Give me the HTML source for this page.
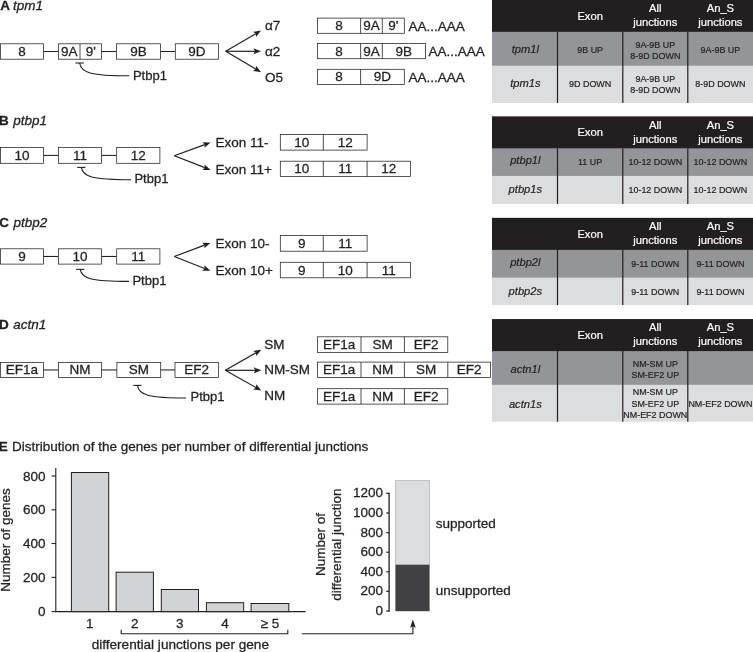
<!DOCTYPE html>
<html><head><meta charset="utf-8"><title>Figure</title>
<style>
html,body{margin:0;padding:0;background:#fff;}
svg{display:block;font-family:"Liberation Sans",sans-serif;}
</style></head><body>
<svg width="753" height="652" viewBox="0 0 753 652">
<rect width="753" height="652" fill="#fff"/>
<text x="0.3" y="9.7" font-size="13.5" text-anchor="start" fill="#231f20" stroke="#231f20" stroke-width="0.28" font-weight="bold">A</text>
<text x="13.0" y="9.7" font-size="13.5" text-anchor="start" fill="#231f20" stroke="#231f20" stroke-width="0.28" font-style="italic">tpm1</text>
<rect x="0.4" y="43.8" width="43.1" height="15.4" fill="#fff" stroke="#231f20" stroke-width="0.75"/>
<line x1="43.5" y1="51.5" x2="58.5" y2="51.5" stroke="#231f20" stroke-width="1.05"/>
<rect x="58.5" y="43.8" width="43.0" height="15.4" fill="#fff" stroke="#231f20" stroke-width="0.75"/>
<line x1="101.5" y1="51.5" x2="116.5" y2="51.5" stroke="#231f20" stroke-width="1.05"/>
<rect x="116.5" y="43.8" width="44.0" height="15.4" fill="#fff" stroke="#231f20" stroke-width="0.75"/>
<text x="138.5" y="56.0" font-size="13.5" text-anchor="middle" fill="#231f20" stroke="#231f20" stroke-width="0.28">9B</text>
<line x1="160.5" y1="51.5" x2="175.3" y2="51.5" stroke="#231f20" stroke-width="1.05"/>
<rect x="175.3" y="43.8" width="43.1" height="15.4" fill="#fff" stroke="#231f20" stroke-width="0.75"/>
<text x="196.85" y="56.0" font-size="13.5" text-anchor="middle" fill="#231f20" stroke="#231f20" stroke-width="0.28">9D</text>
<text x="22" y="56" font-size="13.5" text-anchor="middle" fill="#231f20" stroke="#231f20" stroke-width="0.28">8</text>
<line x1="80" y1="43.8" x2="80" y2="59.2" stroke="#231f20" stroke-width="0.8"/>
<text x="69.3" y="56" font-size="13.5" text-anchor="middle" fill="#231f20" stroke="#231f20" stroke-width="0.28">9A</text>
<text x="90.8" y="56" font-size="13.5" text-anchor="middle" fill="#231f20" stroke="#231f20" stroke-width="0.28">9'</text>
<line x1="75.5" y1="63" x2="83.7" y2="63" stroke="#231f20" stroke-width="1.1"/>
<path d="M79.6,63 C81.1,73.2 91.6,75.7 129.3,75.7" fill="none" stroke="#231f20" stroke-width="1.1"/>
<text x="132.9" y="79.6" font-size="13" text-anchor="start" fill="#231f20" stroke="#231f20" stroke-width="0.28">Ptbp1</text>
<line x1="225.7" y1="51.3" x2="255.69" y2="33.71" stroke="#231f20" stroke-width="1.2"/>
<polygon points="261,30.6 256.02,36.94 255.69,33.71 253.04,31.85" fill="#231f20"/>
<line x1="225.7" y1="51.3" x2="254.85" y2="51.3" stroke="#231f20" stroke-width="1.2"/>
<polygon points="261,51.3 253.5,54.25 254.85,51.3 253.5,48.35" fill="#231f20"/>
<line x1="225.7" y1="51.3" x2="255.71" y2="69.07" stroke="#231f20" stroke-width="1.2"/>
<polygon points="261,72.2 253.04,70.92 255.71,69.07 256.05,65.84" fill="#231f20"/>
<text x="265" y="30" font-size="13.5" text-anchor="start" fill="#231f20" stroke="#231f20" stroke-width="0.28">α7</text>
<text x="265" y="56" font-size="13.5" text-anchor="start" fill="#231f20" stroke="#231f20" stroke-width="0.28">α2</text>
<text x="265" y="81.6" font-size="13.5" text-anchor="start" fill="#231f20" stroke="#231f20" stroke-width="0.28">O5</text>
<rect x="317.5" y="18.1" width="86.8" height="15.2" fill="#fff" stroke="#231f20" stroke-width="0.75"/>
<line x1="360.6" y1="18.1" x2="360.6" y2="33.3" stroke="#231f20" stroke-width="0.8"/>
<line x1="382.3" y1="18.1" x2="382.3" y2="33.3" stroke="#231f20" stroke-width="0.8"/>
<text x="339.05" y="30.099999999999998" font-size="13.5" text-anchor="middle" fill="#231f20" stroke="#231f20" stroke-width="0.28">8</text>
<text x="371.45" y="30.099999999999998" font-size="13.5" text-anchor="middle" fill="#231f20" stroke="#231f20" stroke-width="0.28">9A</text>
<text x="393.3" y="30.099999999999998" font-size="13.5" text-anchor="middle" fill="#231f20" stroke="#231f20" stroke-width="0.28">9'</text>
<text x="408.5" y="30.5" font-size="13.5" text-anchor="start" fill="#231f20" stroke="#231f20" stroke-width="0.28">AA...AAA</text>
<rect x="317.5" y="43.5" width="107.9" height="15.2" fill="#fff" stroke="#231f20" stroke-width="0.75"/>
<line x1="360.6" y1="43.5" x2="360.6" y2="58.7" stroke="#231f20" stroke-width="0.8"/>
<line x1="382.3" y1="43.5" x2="382.3" y2="58.7" stroke="#231f20" stroke-width="0.8"/>
<text x="339.05" y="55.5" font-size="13.5" text-anchor="middle" fill="#231f20" stroke="#231f20" stroke-width="0.28">8</text>
<text x="371.45" y="55.5" font-size="13.5" text-anchor="middle" fill="#231f20" stroke="#231f20" stroke-width="0.28">9A</text>
<text x="403.85" y="55.5" font-size="13.5" text-anchor="middle" fill="#231f20" stroke="#231f20" stroke-width="0.28">9B</text>
<text x="428.5" y="56" font-size="13.5" text-anchor="start" fill="#231f20" stroke="#231f20" stroke-width="0.28">AA...AAA</text>
<rect x="317.5" y="69.3" width="86.8" height="15.3" fill="#fff" stroke="#231f20" stroke-width="0.75"/>
<line x1="360.6" y1="69.3" x2="360.6" y2="84.6" stroke="#231f20" stroke-width="0.8"/>
<text x="339.05" y="81.39999999999999" font-size="13.5" text-anchor="middle" fill="#231f20" stroke="#231f20" stroke-width="0.28">8</text>
<text x="382.45" y="81.39999999999999" font-size="13.5" text-anchor="middle" fill="#231f20" stroke="#231f20" stroke-width="0.28">9D</text>
<text x="408.5" y="81.6" font-size="13.5" text-anchor="start" fill="#231f20" stroke="#231f20" stroke-width="0.28">AA...AAA</text>
<text x="-1" y="125.2" font-size="13.5" text-anchor="start" fill="#231f20" stroke="#231f20" stroke-width="0.28" font-weight="bold">B</text>
<text x="13.2" y="125.2" font-size="13.5" text-anchor="start" fill="#231f20" stroke="#231f20" stroke-width="0.28" font-style="italic">ptbp1</text>
<rect x="0.4" y="147.5" width="43.1" height="15.8" fill="#fff" stroke="#231f20" stroke-width="0.75"/>
<text x="21.95" y="160.10000000000002" font-size="13.5" text-anchor="middle" fill="#231f20" stroke="#231f20" stroke-width="0.28">10</text>
<line x1="43.5" y1="155.4" x2="58.4" y2="155.4" stroke="#231f20" stroke-width="1.05"/>
<rect x="58.4" y="147.5" width="43.2" height="15.8" fill="#fff" stroke="#231f20" stroke-width="0.75"/>
<text x="80.0" y="160.10000000000002" font-size="13.5" text-anchor="middle" fill="#231f20" stroke="#231f20" stroke-width="0.28">11</text>
<line x1="101.6" y1="155.4" x2="116.7" y2="155.4" stroke="#231f20" stroke-width="1.05"/>
<rect x="116.7" y="147.5" width="43.2" height="15.8" fill="#fff" stroke="#231f20" stroke-width="0.75"/>
<text x="138.3" y="160.10000000000002" font-size="13.5" text-anchor="middle" fill="#231f20" stroke="#231f20" stroke-width="0.28">12</text>
<line x1="77.2" y1="167.4" x2="85.4" y2="167.4" stroke="#231f20" stroke-width="1.1"/>
<path d="M81.3,167.4 C82.8,177.2 93.3,179.7 131,179.7" fill="none" stroke="#231f20" stroke-width="1.1"/>
<text x="134.4" y="183.2" font-size="13" text-anchor="start" fill="#231f20" stroke="#231f20" stroke-width="0.28">Ptbp1</text>
<line x1="174.3" y1="155.8" x2="204.73" y2="144.62" stroke="#231f20" stroke-width="1.2"/>
<polygon points="210.5,142.5 204.48,147.86 204.73,144.62 202.44,142.32" fill="#231f20"/>
<line x1="174.3" y1="155.8" x2="204.77" y2="167.67" stroke="#231f20" stroke-width="1.2"/>
<polygon points="210.5,169.9 202.44,169.93 204.77,167.67 204.58,164.43" fill="#231f20"/>
<text x="215.5" y="147.1" font-size="13.5" text-anchor="start" fill="#231f20" stroke="#231f20" stroke-width="0.28">Exon 11-</text>
<text x="215.5" y="174.1" font-size="13.5" text-anchor="start" fill="#231f20" stroke="#231f20" stroke-width="0.28">Exon 11+</text>
<rect x="280.3" y="134.6" width="86.8" height="15.5" fill="#fff" stroke="#231f20" stroke-width="0.75"/>
<line x1="323.3" y1="134.6" x2="323.3" y2="150.1" stroke="#231f20" stroke-width="0.8"/>
<text x="301.8" y="146.9" font-size="13.5" text-anchor="middle" fill="#231f20" stroke="#231f20" stroke-width="0.28">10</text>
<text x="345.2" y="146.9" font-size="13.5" text-anchor="middle" fill="#231f20" stroke="#231f20" stroke-width="0.28">12</text>
<rect x="280.3" y="161.2" width="130.1" height="15.4" fill="#fff" stroke="#231f20" stroke-width="0.75"/>
<line x1="323.3" y1="161.2" x2="323.3" y2="176.6" stroke="#231f20" stroke-width="0.8"/>
<line x1="367.1" y1="161.2" x2="367.1" y2="176.6" stroke="#231f20" stroke-width="0.8"/>
<text x="301.8" y="173.4" font-size="13.5" text-anchor="middle" fill="#231f20" stroke="#231f20" stroke-width="0.28">10</text>
<text x="345.2" y="173.4" font-size="13.5" text-anchor="middle" fill="#231f20" stroke="#231f20" stroke-width="0.28">11</text>
<text x="388.75" y="173.4" font-size="13.5" text-anchor="middle" fill="#231f20" stroke="#231f20" stroke-width="0.28">12</text>
<text x="-0.8" y="227.3" font-size="13.5" text-anchor="start" fill="#231f20" stroke="#231f20" stroke-width="0.28" font-weight="bold">C</text>
<text x="13.4" y="227.3" font-size="13.5" text-anchor="start" fill="#231f20" stroke="#231f20" stroke-width="0.28" font-style="italic">ptbp2</text>
<rect x="0.4" y="248.8" width="43.1" height="15.3" fill="#fff" stroke="#231f20" stroke-width="0.75"/>
<text x="21.95" y="260.90000000000003" font-size="13.5" text-anchor="middle" fill="#231f20" stroke="#231f20" stroke-width="0.28">9</text>
<line x1="43.5" y1="256.45000000000005" x2="58.4" y2="256.45000000000005" stroke="#231f20" stroke-width="1.05"/>
<rect x="58.4" y="248.8" width="43.2" height="15.3" fill="#fff" stroke="#231f20" stroke-width="0.75"/>
<text x="80.0" y="260.90000000000003" font-size="13.5" text-anchor="middle" fill="#231f20" stroke="#231f20" stroke-width="0.28">10</text>
<line x1="101.6" y1="256.45000000000005" x2="116.7" y2="256.45000000000005" stroke="#231f20" stroke-width="1.05"/>
<rect x="116.7" y="248.8" width="43.2" height="15.3" fill="#fff" stroke="#231f20" stroke-width="0.75"/>
<text x="138.3" y="260.90000000000003" font-size="13.5" text-anchor="middle" fill="#231f20" stroke="#231f20" stroke-width="0.28">11</text>
<line x1="76.1" y1="269.4" x2="84.3" y2="269.4" stroke="#231f20" stroke-width="1.1"/>
<path d="M80.2,269.4 C81.7,278.9 92.2,281.4 129,281.4" fill="none" stroke="#231f20" stroke-width="1.1"/>
<text x="132.4" y="284.9" font-size="13" text-anchor="start" fill="#231f20" stroke="#231f20" stroke-width="0.28">Ptbp1</text>
<line x1="174.3" y1="256.5" x2="204.55" y2="245.07" stroke="#231f20" stroke-width="1.2"/>
<polygon points="210.3,242.9 204.33,248.31 204.55,245.07 202.24,242.79" fill="#231f20"/>
<line x1="174.3" y1="256.5" x2="204.58" y2="268.44" stroke="#231f20" stroke-width="1.2"/>
<polygon points="210.3,270.7 202.24,270.69 204.58,268.44 204.41,265.2" fill="#231f20"/>
<text x="215.5" y="248.3" font-size="13.5" text-anchor="start" fill="#231f20" stroke="#231f20" stroke-width="0.28">Exon 10-</text>
<text x="215.5" y="274.6" font-size="13.5" text-anchor="start" fill="#231f20" stroke="#231f20" stroke-width="0.28">Exon 10+</text>
<rect x="280.3" y="235.5" width="86.8" height="15.7" fill="#fff" stroke="#231f20" stroke-width="0.75"/>
<line x1="323.3" y1="235.5" x2="323.3" y2="251.2" stroke="#231f20" stroke-width="0.8"/>
<text x="301.8" y="248.0" font-size="13.5" text-anchor="middle" fill="#231f20" stroke="#231f20" stroke-width="0.28">9</text>
<text x="345.2" y="248.0" font-size="13.5" text-anchor="middle" fill="#231f20" stroke="#231f20" stroke-width="0.28">11</text>
<rect x="280.3" y="262.3" width="130.1" height="15.5" fill="#fff" stroke="#231f20" stroke-width="0.75"/>
<line x1="323.3" y1="262.3" x2="323.3" y2="277.8" stroke="#231f20" stroke-width="0.8"/>
<line x1="367.1" y1="262.3" x2="367.1" y2="277.8" stroke="#231f20" stroke-width="0.8"/>
<text x="301.8" y="274.6" font-size="13.5" text-anchor="middle" fill="#231f20" stroke="#231f20" stroke-width="0.28">9</text>
<text x="345.2" y="274.6" font-size="13.5" text-anchor="middle" fill="#231f20" stroke="#231f20" stroke-width="0.28">10</text>
<text x="388.75" y="274.6" font-size="13.5" text-anchor="middle" fill="#231f20" stroke="#231f20" stroke-width="0.28">11</text>
<text x="-1" y="328.8" font-size="13.5" text-anchor="start" fill="#231f20" stroke="#231f20" stroke-width="0.28" font-weight="bold">D</text>
<text x="13.2" y="328.8" font-size="13.5" text-anchor="start" fill="#231f20" stroke="#231f20" stroke-width="0.28" font-style="italic">actn1</text>
<rect x="0.4" y="362.4" width="43.1" height="15.1" fill="#fff" stroke="#231f20" stroke-width="0.75"/>
<text x="21.95" y="374.3" font-size="13.5" text-anchor="middle" fill="#231f20" stroke="#231f20" stroke-width="0.28">EF1a</text>
<line x1="43.5" y1="369.95" x2="58.4" y2="369.95" stroke="#231f20" stroke-width="1.05"/>
<rect x="58.4" y="362.4" width="43.2" height="15.1" fill="#fff" stroke="#231f20" stroke-width="0.75"/>
<text x="80.0" y="374.3" font-size="13.5" text-anchor="middle" fill="#231f20" stroke="#231f20" stroke-width="0.28">NM</text>
<line x1="101.6" y1="369.95" x2="116.9" y2="369.95" stroke="#231f20" stroke-width="1.05"/>
<rect x="116.9" y="362.4" width="43.8" height="15.1" fill="#fff" stroke="#231f20" stroke-width="0.75"/>
<text x="138.8" y="374.3" font-size="13.5" text-anchor="middle" fill="#231f20" stroke="#231f20" stroke-width="0.28">SM</text>
<line x1="160.7" y1="369.95" x2="175" y2="369.95" stroke="#231f20" stroke-width="1.05"/>
<rect x="175" y="362.4" width="43.4" height="15.1" fill="#fff" stroke="#231f20" stroke-width="0.75"/>
<text x="196.7" y="374.3" font-size="13.5" text-anchor="middle" fill="#231f20" stroke="#231f20" stroke-width="0.28">EF2</text>
<line x1="133.3" y1="385.4" x2="141.5" y2="385.4" stroke="#231f20" stroke-width="1.1"/>
<path d="M137.4,385.4 C138.9,395.5 149.4,398 186.2,398" fill="none" stroke="#231f20" stroke-width="1.1"/>
<text x="190.5" y="400.8" font-size="13" text-anchor="start" fill="#231f20" stroke="#231f20" stroke-width="0.28">Ptbp1</text>
<line x1="225.3" y1="370.3" x2="255.96" y2="352.84" stroke="#231f20" stroke-width="1.2"/>
<polygon points="261.3,349.8 256.24,356.07 255.96,352.84 253.32,350.95" fill="#231f20"/>
<line x1="225.3" y1="370.3" x2="255.15" y2="370.3" stroke="#231f20" stroke-width="1.2"/>
<polygon points="261.3,370.3 253.8,373.25 255.15,370.3 253.8,367.35" fill="#231f20"/>
<line x1="225.3" y1="370.3" x2="255.94" y2="387.58" stroke="#231f20" stroke-width="1.2"/>
<polygon points="261.3,390.6 253.32,389.49 255.94,387.58 256.22,384.35" fill="#231f20"/>
<text x="264.3" y="349.1" font-size="13.5" text-anchor="start" fill="#231f20" stroke="#231f20" stroke-width="0.28">SM</text>
<text x="264.3" y="374.1" font-size="13.5" text-anchor="start" fill="#231f20" stroke="#231f20" stroke-width="0.28">NM-SM</text>
<text x="264.3" y="400" font-size="13.5" text-anchor="start" fill="#231f20" stroke="#231f20" stroke-width="0.28">NM</text>
<rect x="317.5" y="336.8" width="130.3" height="15.6" fill="#fff" stroke="#231f20" stroke-width="0.75"/>
<line x1="361" y1="336.8" x2="361" y2="352.4" stroke="#231f20" stroke-width="0.8"/>
<line x1="404.4" y1="336.8" x2="404.4" y2="352.4" stroke="#231f20" stroke-width="0.8"/>
<text x="339.25" y="349.2" font-size="13.5" text-anchor="middle" fill="#231f20" stroke="#231f20" stroke-width="0.28">EF1a</text>
<text x="382.7" y="349.2" font-size="13.5" text-anchor="middle" fill="#231f20" stroke="#231f20" stroke-width="0.28">SM</text>
<text x="426.1" y="349.2" font-size="13.5" text-anchor="middle" fill="#231f20" stroke="#231f20" stroke-width="0.28">EF2</text>
<rect x="317.5" y="362.1" width="173.1" height="15.3" fill="#fff" stroke="#231f20" stroke-width="0.75"/>
<line x1="361" y1="362.1" x2="361" y2="377.4" stroke="#231f20" stroke-width="0.8"/>
<line x1="404.4" y1="362.1" x2="404.4" y2="377.4" stroke="#231f20" stroke-width="0.8"/>
<line x1="447.8" y1="362.1" x2="447.8" y2="377.4" stroke="#231f20" stroke-width="0.8"/>
<text x="339.25" y="374.2" font-size="13.5" text-anchor="middle" fill="#231f20" stroke="#231f20" stroke-width="0.28">EF1a</text>
<text x="382.7" y="374.2" font-size="13.5" text-anchor="middle" fill="#231f20" stroke="#231f20" stroke-width="0.28">NM</text>
<text x="426.1" y="374.2" font-size="13.5" text-anchor="middle" fill="#231f20" stroke="#231f20" stroke-width="0.28">SM</text>
<text x="469.2" y="374.2" font-size="13.5" text-anchor="middle" fill="#231f20" stroke="#231f20" stroke-width="0.28">EF2</text>
<rect x="317.5" y="388.7" width="130.3" height="15.4" fill="#fff" stroke="#231f20" stroke-width="0.75"/>
<line x1="361" y1="388.7" x2="361" y2="404.1" stroke="#231f20" stroke-width="0.8"/>
<line x1="404.4" y1="388.7" x2="404.4" y2="404.1" stroke="#231f20" stroke-width="0.8"/>
<text x="339.25" y="400.90000000000003" font-size="13.5" text-anchor="middle" fill="#231f20" stroke="#231f20" stroke-width="0.28">EF1a</text>
<text x="382.7" y="400.90000000000003" font-size="13.5" text-anchor="middle" fill="#231f20" stroke="#231f20" stroke-width="0.28">NM</text>
<text x="426.1" y="400.90000000000003" font-size="13.5" text-anchor="middle" fill="#231f20" stroke="#231f20" stroke-width="0.28">EF2</text>
<rect x="492" y="0" width="261" height="103.0" fill="#dcddde"/>
<rect x="492" y="0" width="261" height="65.7" fill="#939598"/>
<rect x="492" y="0" width="261" height="31.8" fill="#231f20"/>
<line x1="557.5" y1="31.8" x2="557.5" y2="103.0" stroke="#231f20" stroke-width="1.2"/>
<line x1="622.8" y1="31.8" x2="622.8" y2="103.0" stroke="#231f20" stroke-width="1.2"/>
<line x1="687.8" y1="31.8" x2="687.8" y2="103.0" stroke="#231f20" stroke-width="1.2"/>
<text x="590.15" y="19.7" font-size="11.2" text-anchor="middle" fill="#fff" stroke="#fff" stroke-width="0.2">Exon</text>
<text x="655.3" y="12.3" font-size="11.2" text-anchor="middle" fill="#fff" stroke="#fff" stroke-width="0.2">All</text>
<text x="655.3" y="26.1" font-size="11.2" text-anchor="middle" fill="#fff" stroke="#fff" stroke-width="0.2">junctions</text>
<text x="720.4" y="12.3" font-size="11.2" text-anchor="middle" fill="#fff" stroke="#fff" stroke-width="0.2">An_S</text>
<text x="720.4" y="26.1" font-size="11.2" text-anchor="middle" fill="#fff" stroke="#fff" stroke-width="0.2">junctions</text>
<text x="525.35" y="52.75" font-size="11.15" text-anchor="middle" fill="#231f20" stroke="#231f20" stroke-width="0.2" font-style="italic">tpm1l</text>
<text x="590.15" y="53.3" font-size="8.95" text-anchor="middle" fill="#231f20" stroke="#231f20" stroke-width="0.2">9B UP</text>
<text x="655.3" y="47.7" font-size="8.95" text-anchor="middle" fill="#231f20" stroke="#231f20" stroke-width="0.2">9A-9B UP</text>
<text x="655.3" y="58.9" font-size="8.95" text-anchor="middle" fill="#231f20" stroke="#231f20" stroke-width="0.2">8-9D DOWN</text>
<text x="720.4" y="53.3" font-size="8.95" text-anchor="middle" fill="#231f20" stroke="#231f20" stroke-width="0.2">9A-9B UP</text>
<text x="525.35" y="87.0" font-size="11.15" text-anchor="middle" fill="#231f20" stroke="#231f20" stroke-width="0.2" font-style="italic">tpm1s</text>
<text x="590.15" y="87.4" font-size="8.95" text-anchor="middle" fill="#231f20" stroke="#231f20" stroke-width="0.2">9D DOWN</text>
<text x="655.3" y="81.8" font-size="8.95" text-anchor="middle" fill="#231f20" stroke="#231f20" stroke-width="0.2">9A-9B UP</text>
<text x="655.3" y="93.0" font-size="8.95" text-anchor="middle" fill="#231f20" stroke="#231f20" stroke-width="0.2">8-9D DOWN</text>
<text x="720.4" y="87.4" font-size="8.95" text-anchor="middle" fill="#231f20" stroke="#231f20" stroke-width="0.2">8-9D DOWN</text>
<rect x="492" y="116.5" width="261" height="87.4" fill="#dcddde"/>
<rect x="492" y="116.5" width="261" height="59.4" fill="#939598"/>
<rect x="492" y="116.5" width="261" height="31.8" fill="#231f20"/>
<line x1="557.5" y1="148.3" x2="557.5" y2="203.9" stroke="#231f20" stroke-width="1.2"/>
<line x1="622.8" y1="148.3" x2="622.8" y2="203.9" stroke="#231f20" stroke-width="1.2"/>
<line x1="687.8" y1="148.3" x2="687.8" y2="203.9" stroke="#231f20" stroke-width="1.2"/>
<text x="590.15" y="136.2" font-size="11.2" text-anchor="middle" fill="#fff" stroke="#fff" stroke-width="0.2">Exon</text>
<text x="655.3" y="128.8" font-size="11.2" text-anchor="middle" fill="#fff" stroke="#fff" stroke-width="0.2">All</text>
<text x="655.3" y="142.6" font-size="11.2" text-anchor="middle" fill="#fff" stroke="#fff" stroke-width="0.2">junctions</text>
<text x="720.4" y="128.8" font-size="11.2" text-anchor="middle" fill="#fff" stroke="#fff" stroke-width="0.2">An_S</text>
<text x="720.4" y="142.6" font-size="11.2" text-anchor="middle" fill="#fff" stroke="#fff" stroke-width="0.2">junctions</text>
<text x="525.35" y="164.25" font-size="11.15" text-anchor="middle" fill="#231f20" stroke="#231f20" stroke-width="0.2" font-style="italic">ptbp1l</text>
<text x="590.15" y="165.2" font-size="8.95" text-anchor="middle" fill="#231f20" stroke="#231f20" stroke-width="0.2">11 UP</text>
<text x="655.3" y="165.2" font-size="8.95" text-anchor="middle" fill="#231f20" stroke="#231f20" stroke-width="0.2">10-12 DOWN</text>
<text x="720.4" y="165.2" font-size="8.95" text-anchor="middle" fill="#231f20" stroke="#231f20" stroke-width="0.2">10-12 DOWN</text>
<text x="525.35" y="193.3" font-size="11.15" text-anchor="middle" fill="#231f20" stroke="#231f20" stroke-width="0.2" font-style="italic">ptbp1s</text>
<text x="655.3" y="192.6" font-size="8.95" text-anchor="middle" fill="#231f20" stroke="#231f20" stroke-width="0.2">10-12 DOWN</text>
<text x="720.4" y="192.6" font-size="8.95" text-anchor="middle" fill="#231f20" stroke="#231f20" stroke-width="0.2">10-12 DOWN</text>
<rect x="492" y="217.9" width="261" height="87.2" fill="#dcddde"/>
<rect x="492" y="217.9" width="261" height="59.7" fill="#939598"/>
<rect x="492" y="217.9" width="261" height="32.0" fill="#231f20"/>
<line x1="557.5" y1="249.9" x2="557.5" y2="305.1" stroke="#231f20" stroke-width="1.2"/>
<line x1="622.8" y1="249.9" x2="622.8" y2="305.1" stroke="#231f20" stroke-width="1.2"/>
<line x1="687.8" y1="249.9" x2="687.8" y2="305.1" stroke="#231f20" stroke-width="1.2"/>
<text x="590.15" y="237.6" font-size="11.2" text-anchor="middle" fill="#fff" stroke="#fff" stroke-width="0.2">Exon</text>
<text x="655.3" y="230.2" font-size="11.2" text-anchor="middle" fill="#fff" stroke="#fff" stroke-width="0.2">All</text>
<text x="655.3" y="244.0" font-size="11.2" text-anchor="middle" fill="#fff" stroke="#fff" stroke-width="0.2">junctions</text>
<text x="720.4" y="230.2" font-size="11.2" text-anchor="middle" fill="#fff" stroke="#fff" stroke-width="0.2">An_S</text>
<text x="720.4" y="244.0" font-size="11.2" text-anchor="middle" fill="#fff" stroke="#fff" stroke-width="0.2">junctions</text>
<text x="525.35" y="265.9" font-size="11.15" text-anchor="middle" fill="#231f20" stroke="#231f20" stroke-width="0.2" font-style="italic">ptbp2l</text>
<text x="655.3" y="266.9" font-size="8.95" text-anchor="middle" fill="#231f20" stroke="#231f20" stroke-width="0.2">9-11 DOWN</text>
<text x="720.4" y="266.9" font-size="8.95" text-anchor="middle" fill="#231f20" stroke="#231f20" stroke-width="0.2">9-11 DOWN</text>
<text x="525.35" y="295.1" font-size="11.15" text-anchor="middle" fill="#231f20" stroke="#231f20" stroke-width="0.2" font-style="italic">ptbp2s</text>
<text x="655.3" y="294.8" font-size="8.95" text-anchor="middle" fill="#231f20" stroke="#231f20" stroke-width="0.2">9-11 DOWN</text>
<text x="720.4" y="294.8" font-size="8.95" text-anchor="middle" fill="#231f20" stroke="#231f20" stroke-width="0.2">9-11 DOWN</text>
<rect x="492" y="319.1" width="261" height="102.6" fill="#dcddde"/>
<rect x="492" y="319.1" width="261" height="65.7" fill="#939598"/>
<rect x="492" y="319.1" width="261" height="32.0" fill="#231f20"/>
<line x1="557.5" y1="351.1" x2="557.5" y2="421.7" stroke="#231f20" stroke-width="1.2"/>
<line x1="622.8" y1="351.1" x2="622.8" y2="421.7" stroke="#231f20" stroke-width="1.2"/>
<line x1="687.8" y1="351.1" x2="687.8" y2="421.7" stroke="#231f20" stroke-width="1.2"/>
<text x="590.15" y="338.8" font-size="11.2" text-anchor="middle" fill="#fff" stroke="#fff" stroke-width="0.2">Exon</text>
<text x="655.3" y="331.4" font-size="11.2" text-anchor="middle" fill="#fff" stroke="#fff" stroke-width="0.2">All</text>
<text x="655.3" y="345.2" font-size="11.2" text-anchor="middle" fill="#fff" stroke="#fff" stroke-width="0.2">junctions</text>
<text x="720.4" y="331.4" font-size="11.2" text-anchor="middle" fill="#fff" stroke="#fff" stroke-width="0.2">An_S</text>
<text x="720.4" y="345.2" font-size="11.2" text-anchor="middle" fill="#fff" stroke="#fff" stroke-width="0.2">junctions</text>
<text x="525.35" y="373.3" font-size="11.15" text-anchor="middle" fill="#231f20" stroke="#231f20" stroke-width="0.2" font-style="italic">actn1l</text>
<text x="655.3" y="366.8" font-size="8.95" text-anchor="middle" fill="#231f20" stroke="#231f20" stroke-width="0.2">NM-SM UP</text>
<text x="655.3" y="378.0" font-size="8.95" text-anchor="middle" fill="#231f20" stroke="#231f20" stroke-width="0.2">SM-EF2 UP</text>
<text x="525.35" y="407.8" font-size="11.15" text-anchor="middle" fill="#231f20" stroke="#231f20" stroke-width="0.2" font-style="italic">actn1s</text>
<text x="655.3" y="395.4" font-size="8.95" text-anchor="middle" fill="#231f20" stroke="#231f20" stroke-width="0.2">NM-SM UP</text>
<text x="655.3" y="406.6" font-size="8.95" text-anchor="middle" fill="#231f20" stroke="#231f20" stroke-width="0.2">SM-EF2 UP</text>
<text x="655.3" y="417.8" font-size="8.95" text-anchor="middle" fill="#231f20" stroke="#231f20" stroke-width="0.2">NM-EF2 DOWN</text>
<text x="720.4" y="406.6" font-size="8.95" text-anchor="middle" fill="#231f20" stroke="#231f20" stroke-width="0.2">NM-EF2 DOWN</text>
<text x="-1.3" y="450.6" font-size="13.5" text-anchor="start" fill="#231f20" stroke="#231f20" stroke-width="0.28" font-weight="bold">E</text>
<text x="12.0" y="450.6" font-size="13.5" text-anchor="start" fill="#231f20" stroke="#231f20" stroke-width="0.28">Distribution of the genes per number of differential junctions</text>
<line x1="55.8" y1="468" x2="55.8" y2="612.1" stroke="#231f20" stroke-width="1.1"/>
<line x1="55.3" y1="611.6" x2="305.6" y2="611.6" stroke="#231f20" stroke-width="1.1"/>
<line x1="51.6" y1="476" x2="55.8" y2="476" stroke="#231f20" stroke-width="1.1"/>
<text x="45.6" y="480.6" font-size="13.5" text-anchor="end" fill="#231f20" stroke="#231f20" stroke-width="0.28">800</text>
<line x1="51.6" y1="509.8" x2="55.8" y2="509.8" stroke="#231f20" stroke-width="1.1"/>
<text x="45.6" y="514.4" font-size="13.5" text-anchor="end" fill="#231f20" stroke="#231f20" stroke-width="0.28">600</text>
<line x1="51.6" y1="543.5" x2="55.8" y2="543.5" stroke="#231f20" stroke-width="1.1"/>
<text x="45.6" y="548.1" font-size="13.5" text-anchor="end" fill="#231f20" stroke="#231f20" stroke-width="0.28">400</text>
<line x1="51.6" y1="577.4" x2="55.8" y2="577.4" stroke="#231f20" stroke-width="1.1"/>
<text x="45.6" y="582.0" font-size="13.5" text-anchor="end" fill="#231f20" stroke="#231f20" stroke-width="0.28">200</text>
<line x1="51.6" y1="611.6" x2="55.8" y2="611.6" stroke="#231f20" stroke-width="1.1"/>
<text x="45.6" y="616.2" font-size="13.5" text-anchor="end" fill="#231f20" stroke="#231f20" stroke-width="0.28">0</text>
<rect x="71.4" y="472.5" width="37.3" height="139.1" fill="#d1d3d4" stroke="#231f20" stroke-width="1"/>
<rect x="116.1" y="572.2" width="37.3" height="39.4" fill="#d1d3d4" stroke="#231f20" stroke-width="1"/>
<rect x="161.3" y="589.5" width="37.2" height="22.1" fill="#d1d3d4" stroke="#231f20" stroke-width="1"/>
<rect x="206.4" y="602.7" width="37.3" height="8.9" fill="#d1d3d4" stroke="#231f20" stroke-width="1"/>
<rect x="251.1" y="603.5" width="37.7" height="8.1" fill="#d1d3d4" stroke="#231f20" stroke-width="1"/>
<text x="89.8" y="628" font-size="13.5" text-anchor="middle" fill="#231f20" stroke="#231f20" stroke-width="0.28">1</text>
<text x="134.7" y="628" font-size="13.5" text-anchor="middle" fill="#231f20" stroke="#231f20" stroke-width="0.28">2</text>
<text x="179.8" y="628" font-size="13.5" text-anchor="middle" fill="#231f20" stroke="#231f20" stroke-width="0.28">3</text>
<text x="225" y="628" font-size="13.5" text-anchor="middle" fill="#231f20" stroke="#231f20" stroke-width="0.28">4</text>
<text x="270" y="628" font-size="13.5" text-anchor="middle" fill="#231f20" stroke="#231f20" stroke-width="0.28">≥ 5</text>
<polyline points="121.2,629.7 121.2,633.8 287.8,633.8 287.8,629.7" fill="none" stroke="#231f20" stroke-width="1.1"/>
<text x="180.3" y="649" font-size="13.6" text-anchor="middle" fill="#231f20" stroke="#231f20" stroke-width="0.28">differential junctions per gene</text>
<text transform="translate(9.9,540) rotate(-90)" font-size="13.5" text-anchor="middle" fill="#231f20" stroke="#231f20" stroke-width="0.28">Number of genes</text>
<polyline points="301.8,633.8 412.9,633.8 412.9,625" fill="none" stroke="#231f20" stroke-width="1.1"/>
<polygon points="412.9,619.6 415.7,627.7 412.9,626.3 410.1,627.7" fill="#231f20"/>
<line x1="389.1" y1="492.7" x2="389.1" y2="611.7" stroke="#231f20" stroke-width="1.3"/>
<line x1="386.2" y1="493.3" x2="389.1" y2="493.3" stroke="#231f20" stroke-width="1.2"/>
<text x="383" y="497.4" font-size="13.5" text-anchor="end" fill="#231f20" stroke="#231f20" stroke-width="0.28">1200</text>
<line x1="386.2" y1="513.0" x2="389.1" y2="513.0" stroke="#231f20" stroke-width="1.2"/>
<text x="383" y="517.1" font-size="13.5" text-anchor="end" fill="#231f20" stroke="#231f20" stroke-width="0.28">1000</text>
<line x1="386.2" y1="532.7" x2="389.1" y2="532.7" stroke="#231f20" stroke-width="1.2"/>
<text x="383" y="536.8" font-size="13.5" text-anchor="end" fill="#231f20" stroke="#231f20" stroke-width="0.28">800</text>
<line x1="386.2" y1="552.2" x2="389.1" y2="552.2" stroke="#231f20" stroke-width="1.2"/>
<text x="383" y="556.3" font-size="13.5" text-anchor="end" fill="#231f20" stroke="#231f20" stroke-width="0.28">600</text>
<line x1="386.2" y1="571.8" x2="389.1" y2="571.8" stroke="#231f20" stroke-width="1.2"/>
<text x="383" y="575.9" font-size="13.5" text-anchor="end" fill="#231f20" stroke="#231f20" stroke-width="0.28">400</text>
<line x1="386.2" y1="591.3" x2="389.1" y2="591.3" stroke="#231f20" stroke-width="1.2"/>
<text x="383" y="595.4" font-size="13.5" text-anchor="end" fill="#231f20" stroke="#231f20" stroke-width="0.28">200</text>
<line x1="386.2" y1="611.0" x2="389.1" y2="611.0" stroke="#231f20" stroke-width="1.2"/>
<text x="383" y="615.1" font-size="13.5" text-anchor="end" fill="#231f20" stroke="#231f20" stroke-width="0.28">0</text>
<rect x="395.4" y="480.5" width="34.2" height="84.3" fill="#dcddde" stroke="#a7a9ac" stroke-width="0.6"/>
<rect x="395.4" y="564.8" width="34.2" height="46.4" fill="#414042"/>
<text x="435.7" y="527.7" font-size="13.5" text-anchor="start" fill="#231f20" stroke="#231f20" stroke-width="0.28">supported</text>
<text x="435.7" y="594.9" font-size="13.5" text-anchor="start" fill="#231f20" stroke="#231f20" stroke-width="0.28">unsupported</text>
<text transform="translate(325.2,544.6) rotate(-90)" font-size="13.5" text-anchor="middle" fill="#231f20" stroke="#231f20" stroke-width="0.28">Number of</text>
<text transform="translate(341.2,544.6) rotate(-90)" font-size="13.5" text-anchor="middle" fill="#231f20" stroke="#231f20" stroke-width="0.28">differential junction</text>
</svg>
</body></html>
